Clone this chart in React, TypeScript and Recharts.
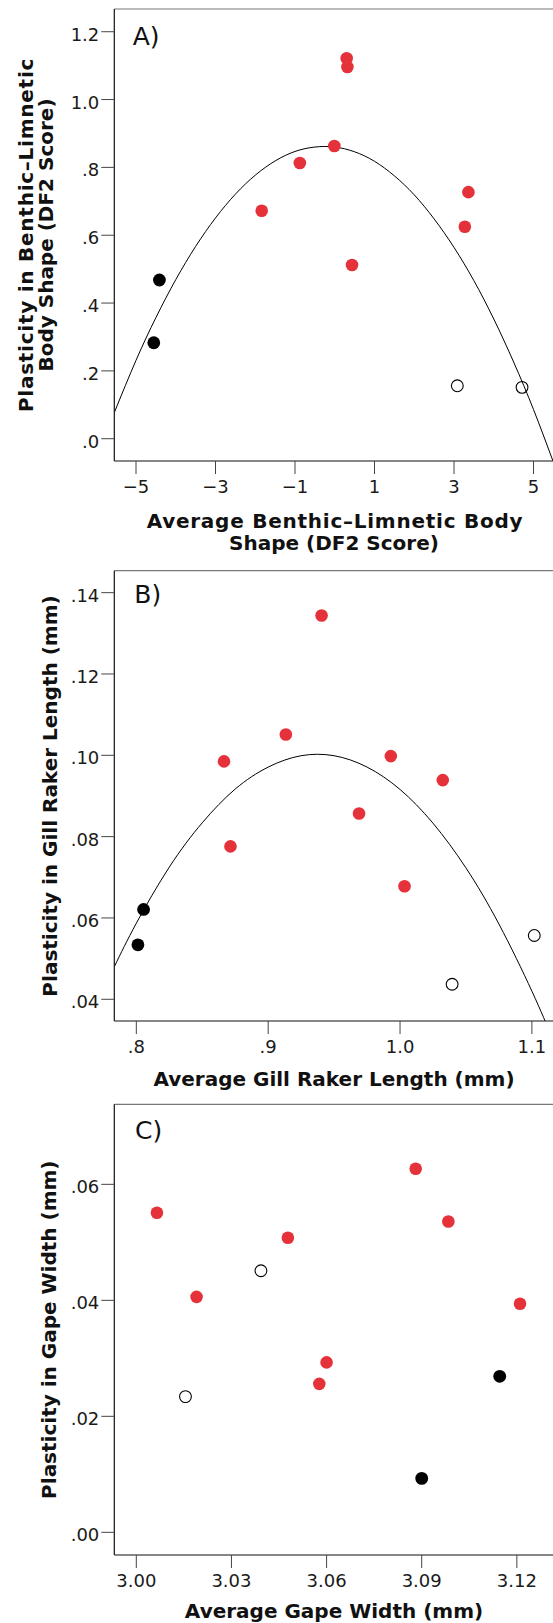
import React from 'react';
import { ComposedChart, Scatter, Line, XAxis, YAxis, ReferenceLine } from 'recharts';

const RED = '#e5323a';
const FONT = '"DejaVu Sans", Verdana, sans-serif';

type Pt = { x: number; y: number };

// ---------- Panel A ----------
const aRed: Pt[] = [
  { x: 0.3, y: 1.122 }, { x: 0.318, y: 1.096 }, { x: -0.011, y: 0.863 }, { x: -0.879, y: 0.813 },
  { x: -1.838, y: 0.672 }, { x: 0.434, y: 0.512 }, { x: 3.362, y: 0.727 }, { x: 3.272, y: 0.625 },
];
const aBlack: Pt[] = [{ x: -4.411, y: 0.468 }, { x: -4.553, y: 0.283 }];
const aOpen: Pt[] = [{ x: 3.083, y: 0.156 }, { x: 4.711, y: 0.1515 }];
const aCurve: Pt[] = [
  { x: -5.546, y: 0.077 }, { x: -5.0, y: 0.231 }, { x: -4.5, y: 0.357 }, { x: -4.0, y: 0.469 },
  { x: -3.5, y: 0.567 }, { x: -3.0, y: 0.651 }, { x: -2.5, y: 0.721 }, { x: -2.0, y: 0.777 },
  { x: -1.5, y: 0.819 }, { x: -1.0, y: 0.847 }, { x: -0.5, y: 0.86 }, { x: 0.0, y: 0.86 },
  { x: 0.5, y: 0.846 }, { x: 1.0, y: 0.818 }, { x: 1.5, y: 0.775 }, { x: 2.0, y: 0.719 },
  { x: 2.5, y: 0.648 }, { x: 3.0, y: 0.564 }, { x: 3.5, y: 0.466 }, { x: 4.0, y: 0.353 },
  { x: 4.5, y: 0.226 }, { x: 5.0, y: 0.086 }, { x: 5.49, y: -0.066 },
];
const aXTicks = [-5, -3, -1, 1, 3, 5];
const aXLabels = ['\u22125', '\u22123', '\u22121', '1', '3', '5'];
const aYTicks = [0, 0.2, 0.4, 0.6, 0.8, 1.0, 1.2];
const aYLabels = ['.0', '.2', '.4', '.6', '.8', '1.0', '1.2'];

// ---------- Panel B ----------
const bRed: Pt[] = [
  { x: 0.9405, y: 0.1344 }, { x: 0.9134, y: 0.1051 }, { x: 0.8665, y: 0.0985 }, { x: 0.8714, y: 0.0776 },
  { x: 0.993, y: 0.0998 }, { x: 1.0324, y: 0.0939 }, { x: 0.9689, y: 0.0857 }, { x: 1.0034, y: 0.0678 },
];
const bBlack: Pt[] = [{ x: 0.8055, y: 0.0621 }, { x: 0.8012, y: 0.0534 }];
const bOpen: Pt[] = [{ x: 1.0395, y: 0.0437 }, { x: 1.1018, y: 0.0557 }];
const bCurve: Pt[] = [
  { x: 0.7833, y: 0.048 }, { x: 0.8, y: 0.0587 }, { x: 0.825, y: 0.0725 }, { x: 0.85, y: 0.0834 },
  { x: 0.875, y: 0.0917 }, { x: 0.9, y: 0.0971 }, { x: 0.925, y: 0.0999 }, { x: 0.95, y: 0.0999 },
  { x: 0.975, y: 0.0971 }, { x: 1.0, y: 0.0916 }, { x: 1.025, y: 0.0833 }, { x: 1.05, y: 0.0723 },
  { x: 1.075, y: 0.0585 }, { x: 1.1, y: 0.042 }, { x: 1.116, y: 0.03 },
];
const bXTicks = [0.8, 0.9, 1.0, 1.1];
const bXLabels = ['.8', '.9', '1.0', '1.1'];
const bYTicks = [0.04, 0.06, 0.08, 0.1, 0.12, 0.14];
const bYLabels = ['.04', '.06', '.08', '.10', '.12', '.14'];

// ---------- Panel C ----------
const cRed: Pt[] = [
  { x: 3.0065, y: 0.0551 }, { x: 3.019, y: 0.0406 }, { x: 3.0478, y: 0.0508 }, { x: 3.06, y: 0.0293 },
  { x: 3.0577, y: 0.0256 }, { x: 3.0881, y: 0.0627 }, { x: 3.0984, y: 0.0536 }, { x: 3.121, y: 0.0394 },
];
const cBlack: Pt[] = [{ x: 3.1146, y: 0.0269 }, { x: 3.09, y: 0.0093 }];
const cOpen: Pt[] = [{ x: 3.0393, y: 0.0451 }, { x: 3.0155, y: 0.0234 }];
const cXTicks = [3.0, 3.03, 3.06, 3.09, 3.12];
const cXLabels = ['3.00', '3.03', '3.06', '3.09', '3.12'];
const cYTicks = [0, 0.02, 0.04, 0.06];
const cYLabels = ['.00', '.02', '.04', '.06'];

const findLabel = (ticks: number[], labels: string[], v: number) => {
  const i = ticks.findIndex((t) => Math.abs(t - v) < 1e-9);
  return i >= 0 ? labels[i] : String(v);
};

const RedDot = (p: any) => <circle cx={p.cx} cy={p.cy} r={6.3} fill={RED} />;
const BlackDot = (p: any) => <circle cx={p.cx} cy={p.cy} r={6.4} fill="#000" />;
const OpenDot = (p: any) => (
  <circle cx={p.cx} cy={p.cy} r={5.9} fill="none" stroke="#000" strokeWidth={1.1} />
);

interface PanelProps {
  top: number;
  height: number;
  marginTop: number;
  xAxisHeight: number;
  xDomain: [number, number];
  yDomain: [number, number];
  xTicks: number[];
  xLabels: string[];
  yTicks: number[];
  yLabels: string[];
  red: Pt[];
  black: Pt[];
  open: Pt[];
  curve?: Pt[];
}

function Panel(props: PanelProps) {
  const { top, height, marginTop, xAxisHeight, xDomain, yDomain, xTicks, xLabels, yTicks, yLabels } = props;
  const xTick = (t: any) => (
    <text x={t.x} y={t.y} dy={13.3} textAnchor="middle" fontSize={18} fontFamily={FONT} fill="#1a1a1a">
      {findLabel(xTicks, xLabels, t.payload.value)}
    </text>
  );
  const yTick = (t: any) => (
    <text x={t.x} y={t.y} dy={9} textAnchor="end" fontSize={18} fontFamily={FONT} fill="#1a1a1a">
      {findLabel(yTicks, yLabels, t.payload.value)}
    </text>
  );
  return (
    <div style={{ position: 'absolute', left: 0, top }}>
      <ComposedChart width={553} height={height} margin={{ top: marginTop, right: 0, bottom: 0, left: 0 }}>
        <XAxis
          type="number"
          dataKey="x"
          domain={xDomain}
          allowDataOverflow
          ticks={xTicks}
          interval={0}
          height={xAxisHeight}
          tickSize={13}
          tickMargin={6}
          axisLine={{ stroke: '#111', strokeWidth: 1.2 }}
          tickLine={{ stroke: '#444' }}
          tick={xTick}
        />
        <YAxis
          type="number"
          dataKey="y"
          domain={yDomain}
          allowDataOverflow
          ticks={yTicks}
          interval={0}
          width={114.3}
          tickSize={13}
          tickMargin={2}
          axisLine={{ stroke: '#111', strokeWidth: 1.2 }}
          tickLine={{ stroke: '#444' }}
          tick={yTick}
        />
        <ReferenceLine y={yDomain[1]} stroke="#777" strokeWidth={1.2} ifOverflow="visible" />
        {props.curve ? (
          <Line
            data={props.curve}
            dataKey="y"
            type="natural"
            stroke="#000"
            strokeWidth={1}
            dot={false}
            activeDot={false}
            isAnimationActive={false}
          />
        ) : null}
        <Scatter data={props.red} dataKey="y" shape={RedDot} isAnimationActive={false} />
        <Scatter data={props.black} dataKey="y" shape={BlackDot} isAnimationActive={false} />
        <Scatter data={props.open} dataKey="y" shape={OpenDot} isAnimationActive={false} />
      </ComposedChart>
    </div>
  );
}

const titleStyle = { fontFamily: FONT, fontWeight: 700, fontSize: 20, fill: '#111' } as const;
const wideTitleStyle = { ...titleStyle, letterSpacing: 0.75 } as const;
const panelLabelStyle = { fontFamily: FONT, fontWeight: 400, fontSize: 25, fill: '#111' } as const;

function YTitle({ x, y, text, wide }: { x: number; y: number; text: string; wide?: boolean }) {
  return (
    <text
      x={x}
      y={y}
      transform={`rotate(-90 ${x} ${y})`}
      textAnchor="middle"
      style={wide ? wideTitleStyle : titleStyle}
    >
      {text}
    </text>
  );
}

export default function App() {
  return (
    <div style={{ position: 'absolute', left: 0, top: 0, width: 553, height: 1623, background: '#fff' }}>
      <Panel
        top={0}
        height={520}
        marginTop={9}
        xAxisHeight={59}
        xDomain={[-5.546, 5.49]}
        yDomain={[-0.0657, 1.267]}
        xTicks={aXTicks}
        xLabels={aXLabels}
        yTicks={aYTicks}
        yLabels={aYLabels}
        red={aRed}
        black={aBlack}
        open={aOpen}
        curve={aCurve}
      />
      <Panel
        top={540}
        height={540}
        marginTop={30.7}
        xAxisHeight={59}
        xDomain={[0.7833, 1.116]}
        yDomain={[0.03466, 0.1454]}
        xTicks={bXTicks}
        xLabels={bXLabels}
        yTicks={bYTicks}
        yLabels={bYLabels}
        red={bRed}
        black={bBlack}
        open={bOpen}
        curve={bCurve}
      />
      <Panel
        top={1090}
        height={520}
        marginTop={14.3}
        xAxisHeight={55}
        xDomain={[2.99306, 3.1314]}
        yDomain={[-0.00391, 0.0738]}
        xTicks={cXTicks}
        xLabels={cXLabels}
        yTicks={cYTicks}
        yLabels={cYLabels}
        red={cRed}
        black={cBlack}
        open={cOpen}
      />
      <svg
        width={553}
        height={1623}
        style={{ position: 'absolute', left: 0, top: 0, pointerEvents: 'none' }}
      >
        <YTitle x={33.3} y={235} text="Plasticity in Benthic–Limnetic" wide />
        <YTitle x={53.3} y={235} text="Body Shape (DF2 Score)" />
        <text x={335} y={527.7} textAnchor="middle" style={wideTitleStyle}>Average Benthic–Limnetic Body</text>
        <text x={334} y={549.5} textAnchor="middle" style={titleStyle}>Shape (DF2 Score)</text>
        <text x={132.7} y={45} style={panelLabelStyle}>A)</text>

        <YTitle x={56.5} y={796} text="Plasticity in Gill Raker Length (mm)" />
        <text x={334} y={1085.7} textAnchor="middle" style={titleStyle}>Average Gill Raker Length (mm)</text>
        <text x={134.3} y={603.3} style={panelLabelStyle}>B)</text>

        <YTitle x={56.5} y={1329.7} text="Plasticity in Gape Width (mm)" />
        <text x={334} y={1618} textAnchor="middle" style={titleStyle}>Average Gape Width (mm)</text>
        <text x={135} y={1139} style={panelLabelStyle}>C)</text>
      </svg>
    </div>
  );
}
